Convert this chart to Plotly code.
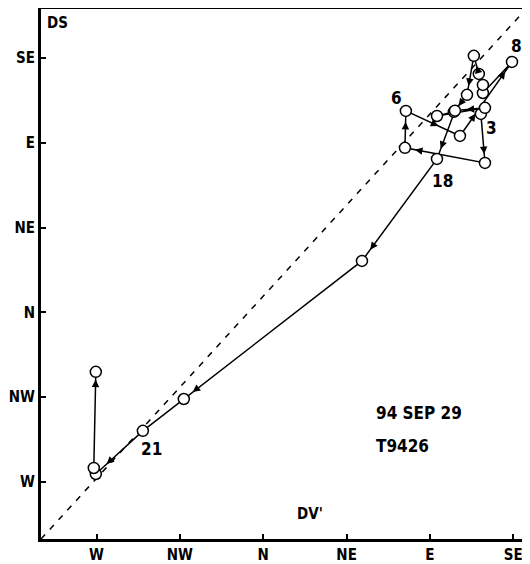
import math
import plotly.graph_objects as go

# ---------------- data ----------------
# direction axes in degrees: W=270, NW=315, N=360, NE=405, E=450, SE=495
tick_vals = [270, 315, 360, 405, 450, 495]
tick_text = ["W", "NW", "N", "NE", "E", "SE"]

hours = [3, 4, 5, 6, 7, 8, 9, 10, 11, 12, 13, 14, 15, 16, 17, 18, 19, 20, 21, 22, 23, 24]
dv = [477.5, 479.7, 436.5, 437.0, 466.2, 494.3, 478.6, 478.6, 476.4, 473.7, 470.0,
      462.9, 453.8, 479.7, 463.5, 453.8, 413.3, 317.1, 295.0, 269.6, 268.5, 269.6]
ds = [465.3, 439.3, 447.3, 466.9, 453.6, 492.9, 476.4, 480.7, 486.5, 496.1, 475.4,
      466.4, 464.2, 468.5, 467.0, 441.4, 387.3, 314.0, 297.1, 274.2, 277.4, 328.4]

labelled_hours = [3, 6, 8, 18, 21]

x_range = [240.0, 502.4]
y_range = [239.7, 521.5]

# ---------------- styling ----------------
FONT = "DejaVu Sans Condensed, Liberation Sans Narrow, sans-serif"
# the page body adds an 8px offset, so the figure is 8px smaller in each direction
W, H = 522, 556
ML, MR, MT, MB = 33, 3, 0, 25
pw, ph = W - ML - MR, H - MT - MB
sx = pw / (x_range[1] - x_range[0])
sy = ph / (y_range[1] - y_range[0])

# arrowheads: (segment start index, fraction along the segment)
arrow_marks = [(0, 0.82), (1, 0.875), (2, 0.70), (3, 0.60), (4, 0.30), (4, 0.87),
               (8, 0.45), (9, 0.77), (10, 0.65), (13, 0.61), (14, 0.79),
               (15, 0.89), (16, 0.95), (18, 0.77), (20, 0.92)]

# label pixel offsets (dx right, dy up)
label_offsets = {3: (11, -14), 6: (-9, 13), 8: (4, 16), 18: (6, -22), 21: (9, -18)}

fig = go.Figure()

# dashed diagonal reference line
fig.add_trace(go.Scatter(x=x_range, y=y_range, mode="lines",
                         line=dict(color="black", width=1.5, dash="6px,7px"),
                         hoverinfo="skip", showlegend=False))

# track
fig.add_trace(go.Scatter(x=dv, y=ds, mode="lines",
                         line=dict(color="black", width=1.5),
                         hoverinfo="skip", showlegend=False))

# hourly positions
fig.add_trace(go.Scatter(x=dv, y=ds, mode="markers", text=[str(h) for h in hours],
                         marker=dict(size=11, color="white",
                                     line=dict(color="black", width=1.5)),
                         cliponaxis=False, showlegend=False))

annotations = []
for i, t in arrow_marks:
    x0, y0, x1, y1 = dv[i], ds[i], dv[i + 1], ds[i + 1]
    tx, ty = x0 + t * (x1 - x0), y0 + t * (y1 - y0)
    dxp, dyp = (x1 - x0) * sx, (y1 - y0) * sy
    n = math.hypot(dxp, dyp) or 1.0
    L = 7.0
    axp, ayp = tx - L * dxp / n / sx, ty - L * dyp / n / sy
    annotations.append(dict(x=tx, y=ty, ax=axp, ay=ayp, xref="x", yref="y",
                            axref="x", ayref="y", text="", showarrow=True,
                            arrowhead=2, arrowsize=1.0, arrowwidth=1.5,
                            arrowcolor="black"))

for h in labelled_hours:
    k = hours.index(h)
    ox, oy = label_offsets[h]
    annotations.append(dict(x=dv[k], y=ds[k], xref="x", yref="y", text=str(h),
                            showarrow=False, xshift=ox, yshift=oy,
                            font=dict(family=FONT, size=17, color="black", weight="bold")))

text_font = dict(family=FONT, size=17, color="black", weight="bold")
small_font = dict(family=FONT, size=15, color="black", weight="bold")
annotations += [
    dict(x=0.033, y=0.972, xref="paper", yref="paper", text="DS", showarrow=False,
         xanchor="center", yanchor="middle", font=small_font),
    dict(x=0.553, y=0.047, xref="paper", yref="paper", text="DV'", showarrow=False,
         xanchor="center", yanchor="middle", font=small_font),
    dict(x=0.686, y=0.237, xref="paper", yref="paper", text="94 SEP 29", showarrow=False,
         xanchor="left", yanchor="middle", font=text_font),
    dict(x=0.686, y=0.175, xref="paper", yref="paper", text="T9426", showarrow=False,
         xanchor="left", yanchor="middle", font=text_font),
]

axis_common = dict(tickvals=tick_vals, ticktext=tick_text, ticks="inside", ticklen=5,
                   tickwidth=2, tickcolor="black", showline=True, linewidth=3,
                   linecolor="black", showgrid=False, zeroline=False,
                   tickfont=dict(family=FONT, size=15, color="black", weight="bold"),
                   automargin=False, fixedrange=True)

fig.update_layout(
    width=W, height=H, margin=dict(l=ML, r=MR, t=MT, b=MB),
    paper_bgcolor="white", plot_bgcolor="white",
    xaxis=dict(range=x_range, **axis_common),
    yaxis=dict(range=y_range, **axis_common),
    annotations=annotations,
    shapes=[
        dict(type="line", xref="paper", yref="paper", x0=0, x1=1, y0=1, y1=1,
             line=dict(color="black", width=2)),
        dict(type="line", xref="paper", yref="paper", x0=1, x1=1, y0=0, y1=1,
             line=dict(color="black", width=2)),
    ],
    showlegend=False,
)

fig.write_html("out.html")
